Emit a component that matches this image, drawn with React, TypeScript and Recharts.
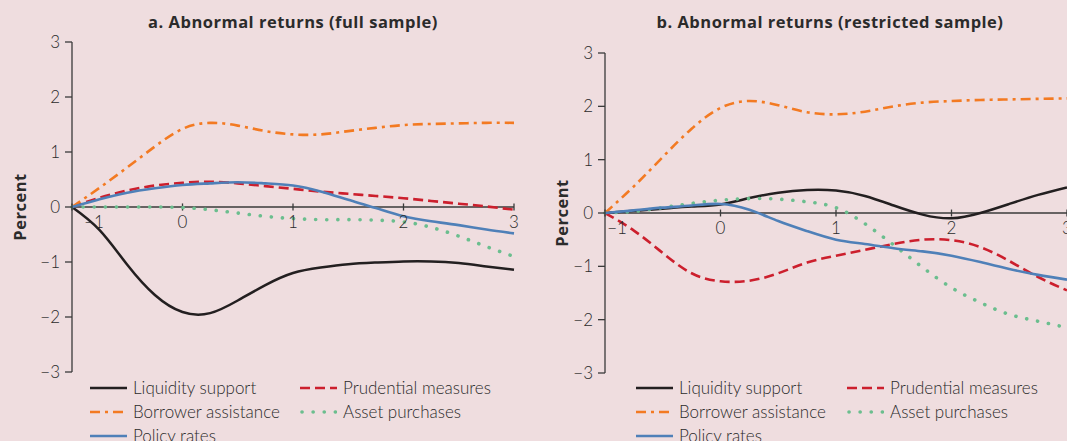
import React from 'react';
import { LineChart, Line, XAxis, YAxis, ReferenceLine, ReferenceDot } from 'recharts';

// ---------- data ----------
const X_VALUES = [-1, -0.75, -0.5, -0.25, 0, 0.25, 0.5, 0.75, 1, 1.25, 1.5, 1.75, 2, 2.25, 2.5, 2.75, 3];
const X_TICKS = [-1, 0, 1, 2, 3];
const Y_TICKS = [-3, -2, -1, 0, 1, 2, 3];

// Panel a: full sample
const A_LIQUIDITY = [0, -0.42, -1.05, -1.6, -1.91, -1.93, -1.7, -1.42, -1.2, -1.1, -1.04, -1.01, -0.99, -0.99, -1.02, -1.08, -1.14];
const A_BORROWER = [0, 0.35, 0.72, 1.1, 1.42, 1.53, 1.48, 1.38, 1.32, 1.32, 1.38, 1.44, 1.49, 1.51, 1.52, 1.53, 1.53];
const A_PRUDENTIAL = [0, 0.17, 0.3, 0.39, 0.44, 0.46, 0.43, 0.38, 0.33, 0.28, 0.24, 0.2, 0.16, 0.11, 0.06, 0.01, -0.05];
const A_ASSET = [0, 0, 0, 0, -0.01, -0.05, -0.11, -0.17, -0.21, -0.23, -0.23, -0.24, -0.27, -0.37, -0.53, -0.72, -0.9];
const A_POLICY = [0, 0.14, 0.26, 0.34, 0.4, 0.43, 0.45, 0.43, 0.39, 0.28, 0.13, -0.02, -0.17, -0.26, -0.33, -0.41, -0.48];

// Panel b: restricted sample
const B_LIQUIDITY = [0, 0.04, 0.08, 0.12, 0.16, 0.28, 0.38, 0.43, 0.42, 0.32, 0.14, -0.03, -0.1, 0.0, 0.17, 0.34, 0.48];
const B_BORROWER = [0, 0.5, 1.05, 1.58, 1.97, 2.1, 2.02, 1.89, 1.85, 1.9, 2.0, 2.07, 2.1, 2.12, 2.13, 2.14, 2.15];
const B_PRUDENTIAL = [0, -0.33, -0.75, -1.13, -1.28, -1.27, -1.13, -0.93, -0.8, -0.69, -0.58, -0.5, -0.51, -0.64, -0.9, -1.2, -1.45];
const B_ASSET = [0, 0.03, 0.1, 0.18, 0.24, 0.27, 0.26, 0.21, 0.1, -0.2, -0.6, -1.02, -1.4, -1.68, -1.9, -2.03, -2.15];
const B_POLICY = [0, 0.05, 0.1, 0.14, 0.17, 0.06, -0.15, -0.34, -0.5, -0.58, -0.66, -0.72, -0.8, -0.92, -1.05, -1.16, -1.25];

const SERIES_NAMES = ['Liquidity support', 'Prudential measures', 'Borrower assistance', 'Asset purchases', 'Policy rates'];
const TITLE_A = 'a. Abnormal returns (full sample)';
const TITLE_B = 'b. Abnormal returns (restricted sample)';
const Y_LABEL = 'Percent';

// ---------- styles ----------
const BG = '#EFDDDF';
const TEXT = '#2b2b2b';
const AXIS = '#3a3a3a';
const FONT = "Lato, 'Open Sans', sans-serif";
const BOLD_FONT = "'Open Sans', Lato, sans-serif";

type Style = { key: string; color: string; dash?: string; width: number; cap: 'butt' | 'round' };
const STYLES: Style[] = [
  { key: 'liquidity', color: '#231F20', width: 2.5, cap: 'butt' },
  { key: 'prudential', color: '#CC1F2D', dash: '10 5', width: 2.6, cap: 'butt' },
  { key: 'borrower', color: '#F37A22', dash: '10 5 3 5', width: 2.6, cap: 'butt' },
  { key: 'asset', color: '#6BBE8E', dash: '0.1 11', width: 3.6, cap: 'round' },
  { key: 'policy', color: '#4F80B8', width: 2.6, cap: 'butt' },
];

const buildRows = (liq: number[], bor: number[], pru: number[], ass: number[], pol: number[]) =>
  X_VALUES.map((x, i) => ({ x, liquidity: liq[i], borrower: bor[i], prudential: pru[i], asset: ass[i], policy: pol[i] }));

const DATA_A = buildRows(A_LIQUIDITY, A_BORROWER, A_PRUDENTIAL, A_ASSET, A_POLICY);
const DATA_B = buildRows(B_LIQUIDITY, B_BORROWER, B_PRUDENTIAL, B_ASSET, B_POLICY);

const fmt = (v: number) => (v < 0 ? '\u2212' + Math.abs(v) : String(v));

const TickLabel = (props: any) => {
  const vb = props.viewBox || {};
  return (
    <text x={vb.x + (props.shift || 0)} y={vb.y + 21} textAnchor="middle" fill={TEXT} fontSize={17} fontFamily={FONT} fontWeight={300}>
      {props.text}
    </text>
  );
};

type PanelProps = {
  data: any[];
  width: number;
  margin: { top: number; right: number; bottom: number; left: number };
  tickHalf: number;
  firstShift: number;
};

const Panel = ({ data, width, margin, tickHalf, firstShift }: PanelProps) => (
  <LineChart width={width} height={441} data={data} margin={margin}>
    <XAxis dataKey="x" type="number" domain={[-1, 3]} ticks={X_TICKS} hide />
    <YAxis
      type="number"
      domain={[-3, 3]}
      ticks={Y_TICKS}
      width={40}
      tickFormatter={fmt}
      tickSize={7}
      tickMargin={5}
      axisLine={{ stroke: AXIS, strokeWidth: 1.3 }}
      tickLine={{ stroke: AXIS, strokeWidth: 1.3 }}
      tick={{ fill: TEXT, fontSize: 17, fontFamily: FONT, fontWeight: 300 }}
      interval={0}
    />
    <ReferenceLine y={0} stroke={AXIS} strokeWidth={1.3} />
    {X_TICKS.map((t) => (
      <ReferenceLine
        key={'tl' + t}
        segment={[{ x: t, y: -tickHalf }, { x: t, y: tickHalf }]}
        stroke={AXIS}
        strokeWidth={1.3}
        ifOverflow="visible"
      />
    ))}
    {STYLES.map((s) => (
      <Line
        key={s.key}
        type="natural"
        dataKey={s.key}
        stroke={s.color}
        strokeWidth={s.width}
        strokeDasharray={s.dash}
        strokeLinecap={s.cap}
        dot={false}
        activeDot={false}
        isAnimationActive={false}
      />
    ))}
    {X_TICKS.map((t) => (
      <ReferenceDot
        key={'lb' + t}
        x={t}
        y={0}
        r={0}
        fill="none"
        stroke="none"
        ifOverflow="visible"
        label={(p: any) => <TickLabel {...p} text={fmt(t)} shift={t === -1 ? firstShift : 0} />}
      />
    ))}
  </LineChart>
);

const LegendIcon = ({ s }: { s: Style }) => (
  <svg width={37} height={8} style={{ display: 'block' }}>
    <line
      x1={s.cap === 'round' ? 2 : 0}
      y1={4}
      x2={37}
      y2={4}
      stroke={s.color}
      strokeWidth={s.width}
      strokeDasharray={s.dash}
      strokeLinecap={s.cap}
    />
  </svg>
);

const Legend = ({ left, col2 }: { left: number; col2: number }) => (
  <>
    {SERIES_NAMES.map((name, i) => {
      const s = STYLES[i];
      const col = i % 2;
      const row = Math.floor(i / 2);
      return (
        <div
          key={name}
          style={{
            position: 'absolute',
            left: col === 0 ? left : col2,
            top: 388 + row * 24,
            transform: 'translateY(-50%)',
            display: 'flex',
            alignItems: 'center',
            gap: 6,
            fontFamily: FONT,
            fontSize: 17,
            fontWeight: 300,
            color: TEXT,
            whiteSpace: 'nowrap',
            lineHeight: '20px',
          }}
        >
          <LegendIcon s={s} />
          <span>{name}</span>
        </div>
      );
    })}
  </>
);

const Title = ({ text, cx }: { text: string; cx: number }) => (
  <div
    style={{
      position: 'absolute',
      left: cx,
      top: 21,
      transform: 'translate(-50%, -50%)',
      fontFamily: BOLD_FONT,
      fontWeight: 700,
      fontSize: 16.5,
      letterSpacing: 0.5,
      color: TEXT,
      whiteSpace: 'nowrap',
    }}
  >
    {text}
  </div>
);

const YLabel = ({ cx, cy }: { cx: number; cy: number }) => (
  <div
    style={{
      position: 'absolute',
      left: cx,
      top: cy,
      transform: 'translate(-50%, -50%) rotate(-90deg)',
      fontFamily: BOLD_FONT,
      fontWeight: 700,
      fontSize: 16.5,
      letterSpacing: 0.5,
      color: TEXT,
      whiteSpace: 'nowrap',
    }}
  >
    {Y_LABEL}
  </div>
);

export default function App() {
  return (
    <div
      style={{
        position: 'absolute',
        left: 0,
        top: 0,
        width: 1067,
        height: 441,
        background: BG,
        overflow: 'hidden',
      }}
    >
      <div style={{ position: 'absolute', left: 0, top: 0 }}>
        <Panel data={DATA_A} width={530} margin={{ top: 42, right: 16, bottom: 69, left: 32 }} tickHalf={0.065} firstShift={22} />
      </div>
      <div style={{ position: 'absolute', left: 530, top: 0 }}>
        <Panel data={DATA_B} width={537} margin={{ top: 53, right: 0, bottom: 68, left: 35 }} tickHalf={0.065} firstShift={12} />
      </div>
      <Title text={TITLE_A} cx={293} />
      <Title text={TITLE_B} cx={830} />
      <YLabel cx={19} cy={207} />
      <YLabel cx={561} cy={213} />
      <Legend left={90} col2={300} />
      <Legend left={636} col2={847} />
    </div>
  );
}
